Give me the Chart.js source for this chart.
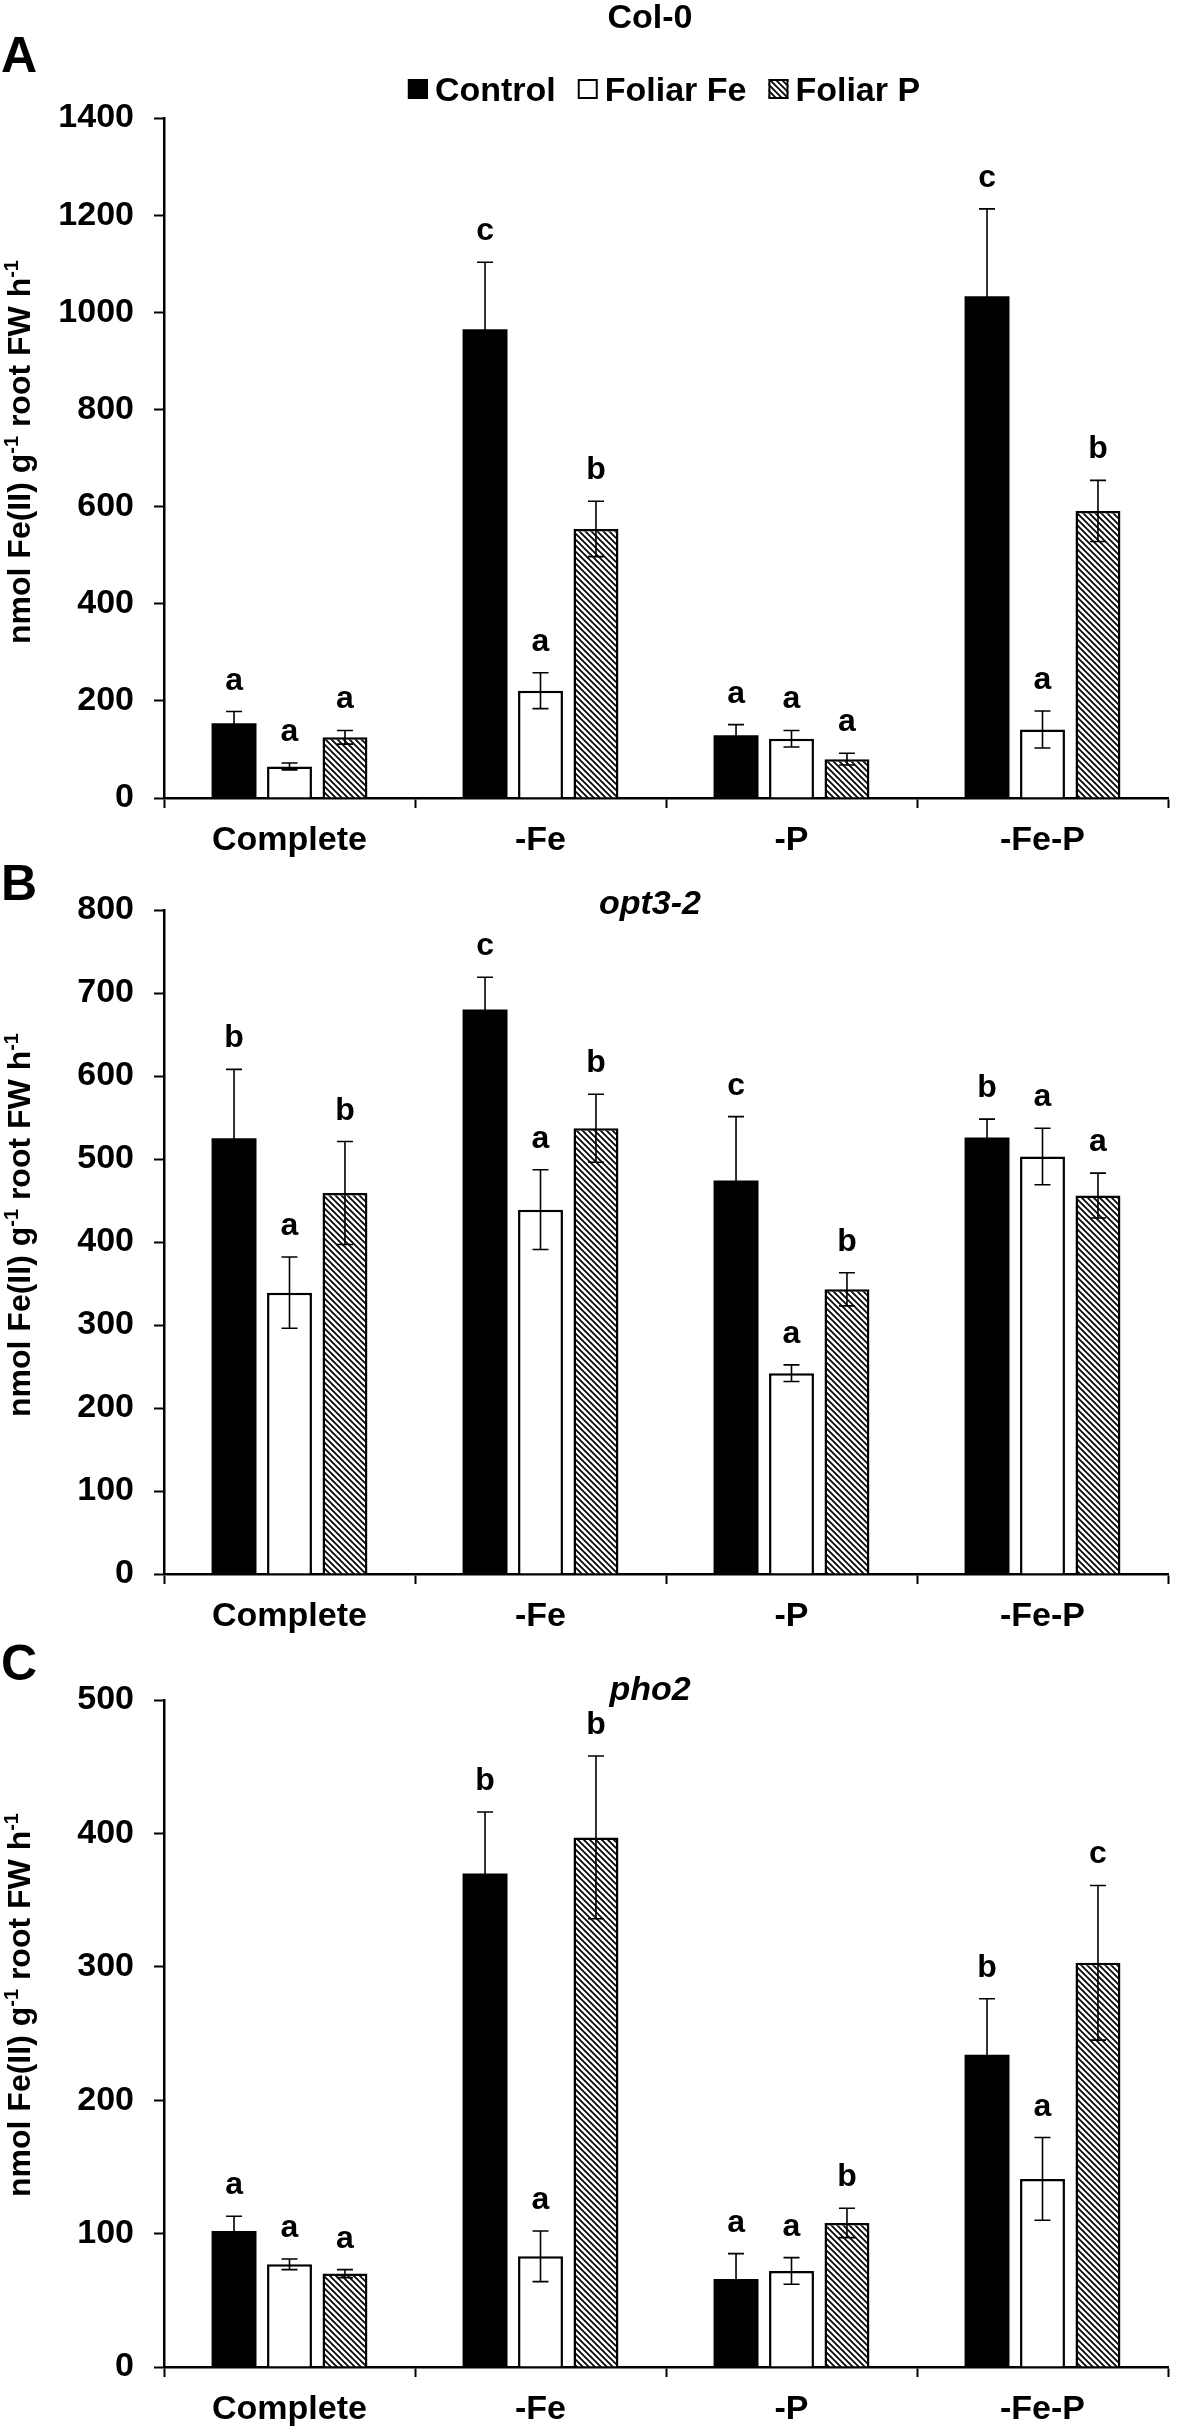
<!DOCTYPE html>
<html>
<head>
<meta charset="utf-8">
<script src="https://cdn.jsdelivr.net/npm/chart.js@4.4.1/dist/chart.umd.min.js"></script>
<style>
  html, body { margin: 0; padding: 0; background: #fff; }
  #wrap { position: relative; width: 1178px; height: 2430px; }
  canvas { position: absolute; left: 0; }
</style>
</head>
<body>
<div id="wrap">
  <canvas id="panelA" width="1178" height="860" style="top:0px"></canvas>
  <canvas id="panelB" width="1178" height="780" style="top:860px"></canvas>
  <canvas id="panelC" width="1178" height="790" style="top:1640px"></canvas>
</div>
<script>
const categories = ['Complete', '-Fe', '-P', '-Fe-P'];
const seriesNames = ['Control', 'Foliar Fe', 'Foliar P'];

// A: Col-0
const colControl = [154, 965, 129, 1033];
const colControlErr = [24, 138, 22, 180];
const colControlSig = ['a', 'c', 'a', 'c'];
const colFe = [65, 221, 122, 141];
const colFeErr = [7, 37, 17, 38];
const colFeSig = ['a', 'a', 'a', 'a'];
const colP = [125, 554, 80, 591];
const colPErr = [14, 57, 12, 63];
const colPSig = ['a', 'b', 'a', 'b'];

// B: opt3-2
const optControl = [525, 680, 474, 526];
const optControlErr = [83, 39, 77, 22];
const optControlSig = ['b', 'c', 'c', 'b'];
const optFe = [339, 439, 242, 503];
const optFeErr = [43, 48, 10, 34];
const optFeSig = ['a', 'a', 'a', 'a'];
const optP = [459, 537, 343, 456];
const optPErr = [62, 41, 20, 27];
const optPSig = ['b', 'b', 'b', 'a'];

// C: pho2
const phoControl = [102, 370, 66, 234];
const phoControlErr = [11, 46, 19, 42];
const phoControlSig = ['a', 'b', 'a', 'b'];
const phoFe = [77, 83, 72, 141];
const phoFeErr = [4, 19, 10, 31];
const phoFeSig = ['a', 'a', 'a', 'a'];
const phoP = [70, 397, 108, 303];
const phoPErr = [3, 61, 11, 58];
const phoPSig = ['a', 'b', 'b', 'c'];

const FONT = '"Liberation Sans", Arial, Helvetica, sans-serif';
Chart.defaults.font.family = FONT;
Chart.defaults.color = '#000';

function hatchPattern() {
    const c = document.createElement('canvas');
    c.width = 6; c.height = 6;
    const g = c.getContext('2d');
    g.fillStyle = '#fff';
    g.fillRect(0, 0, 6, 6);
    g.strokeStyle = '#000';
    g.lineWidth = 1.7;
    g.beginPath();
    g.moveTo(-1, -1); g.lineTo(7, 7);
    g.moveTo(-1, 5); g.lineTo(1, 7);
    g.moveTo(5, -1); g.lineTo(7, 1);
    g.stroke();
    return g.createPattern(c, 'repeat');
}
const hatch = hatchPattern();

// error bars + significance letters, placed with the y scale
const errorBars = {
    id: 'errorBars',
    afterDatasetsDraw(chart) {
        const ctx = chart.ctx;
        const ys = chart.scales.y;
        ctx.save();
        chart.data.datasets.forEach((ds, i) => {
            const meta = chart.getDatasetMeta(i);
            meta.data.forEach((bar, j) => {
                const v = ds.data[j], e = ds.errors[j];
                const yt = ys.getPixelForValue(v + e);
                const yb = ys.getPixelForValue(v - e);
                const x = bar.x;
                ctx.strokeStyle = '#000';
                ctx.lineWidth = 1.6;
                ctx.beginPath();
                ctx.moveTo(x, yt); ctx.lineTo(x, yb);
                ctx.moveTo(x - 8, yt); ctx.lineTo(x + 8, yt);
                ctx.moveTo(x - 8, yb); ctx.lineTo(x + 8, yb);
                ctx.stroke();
                ctx.fillStyle = '#000';
                ctx.font = 'bold 32px ' + FONT;
                ctx.textAlign = 'center';
                ctx.textBaseline = 'alphabetic';
                ctx.fillText(ds.letters[j], x, yt - 22);
            });
        });
        ctx.restore();
    }
};

function decoPlugin(p) {
    return {
        id: 'deco',
        afterDraw(chart) {
            const ctx = chart.ctx;
            ctx.save();
            ctx.fillStyle = '#000';
            // panel letter
            ctx.font = 'bold 50px ' + FONT;
            ctx.textAlign = 'left';
            ctx.textBaseline = 'alphabetic';
            ctx.fillText(p.letter, 1, p.letterBase);
            // title
            ctx.font = (p.italic ? 'italic ' : '') + 'bold 34px ' + FONT;
            ctx.textAlign = 'center';
            ctx.fillText(p.title, 650, p.titleBase);
            // y axis title with superscripts
            const parts = [['nmol Fe(II) g', false], ['-1', true], [' root FW h', false], ['-1', true]];
            const big = 'bold 32px ' + FONT, small = 'bold 20px ' + FONT;
            let total = 0;
            parts.forEach(([t, sup]) => { ctx.font = sup ? small : big; total += ctx.measureText(t).width; });
            ctx.translate(30, p.labelCenter);
            ctx.rotate(-Math.PI / 2);
            ctx.textAlign = 'left';
            let x = -total / 2;
            parts.forEach(([t, sup]) => {
                ctx.font = sup ? small : big;
                ctx.fillText(t, x, sup ? -12 : 0);
                x += ctx.measureText(t).width;
            });
            ctx.setTransform(1, 0, 0, 1, 0, 0);
            // legend (panel A only)
            if (p.legend) {
                ctx.font = 'bold 34px ' + FONT;
                const ds = chart.data.datasets;
                const widths = ds.map(d => ctx.measureText(d.label).width);
                const box = 20, gap = 7, sep = 22;
                const full = widths.reduce((a, b) => a + b, 0) + ds.length * (box + gap) + (ds.length - 1) * sep;
                let lx = 664 - full / 2;
                const cy = 89;
                ds.forEach((d, i) => {
                    ctx.fillStyle = d.backgroundColor;
                    ctx.fillRect(lx, cy - 10, box, box);
                    ctx.strokeStyle = '#000';
                    ctx.lineWidth = 2;
                    ctx.strokeRect(lx + 1, cy - 9, box - 2, box - 2);
                    ctx.fillStyle = '#000';
                    ctx.textAlign = 'left';
                    ctx.fillText(d.label, lx + box + gap, cy + 12);
                    lx += box + gap + widths[i] + sep;
                });
            }
            ctx.restore();
        }
    };
}

function makePanel(id, p) {
    const bold34 = { size: 34, weight: 'bold', family: FONT };
    const common = { categoryPercentage: 0.663, barPercentage: 0.81, borderColor: '#000' };
    new Chart(document.getElementById(id), {
        type: 'bar',
        data: {
            labels: categories,
            datasets: [
                Object.assign({ label: seriesNames[0], data: p.control, errors: p.controlErr, letters: p.controlSig,
                    backgroundColor: '#000', borderWidth: 0 }, common),
                Object.assign({ label: seriesNames[1], data: p.fe, errors: p.feErr, letters: p.feSig,
                    backgroundColor: '#fff', borderWidth: 2.5 }, common),
                Object.assign({ label: seriesNames[2], data: p.pp, errors: p.ppErr, letters: p.ppSig,
                    backgroundColor: hatch, borderWidth: 2.5 }, common)
            ]
        },
        options: {
            responsive: false,
            animation: false,
            devicePixelRatio: 1,
            layout: { padding: { top: p.top, bottom: p.padBottom, left: 0, right: 10 } },
            plugins: {
                legend: { display: false },
                title: { display: false },
                tooltip: { enabled: false }
            },
            scales: {
                x: {
                    ticks: { font: bold34, color: '#000', padding: 12, maxRotation: 0 },
                    grid: { offset: true, drawOnChartArea: false, drawTicks: true, tickLength: 10, tickWidth: 2, tickColor: '#000' },
                    border: { color: '#000', width: 2.5 },
                    afterFit(s) { s.height = 60; }
                },
                y: {
                    min: 0,
                    max: p.max,
                    ticks: { stepSize: p.step, font: bold34, color: '#000', padding: 20, callback: v => String(v) },
                    grid: { drawOnChartArea: false, drawTicks: true, tickLength: 10, tickWidth: 2, tickColor: '#000' },
                    border: { color: '#000', width: 2.5 },
                    afterFit(s) { s.width = 164; }
                }
            }
        },
        plugins: [errorBars, decoPlugin(p)]
    });
}

makePanel('panelA', {
    control: colControl, controlErr: colControlErr, controlSig: colControlSig,
    fe: colFe, feErr: colFeErr, feSig: colFeSig,
    pp: colP, ppErr: colPErr, ppSig: colPSig,
    max: 1400, step: 200, top: 118, padBottom: 2,
    letter: 'A', letterBase: 72, title: 'Col-0', italic: false, titleBase: 28,
    labelCenter: 452, legend: true
});
makePanel('panelB', {
    control: optControl, controlErr: optControlErr, controlSig: optControlSig,
    fe: optFe, feErr: optFeErr, feSig: optFeSig,
    pp: optP, ppErr: optPErr, ppSig: optPSig,
    max: 800, step: 100, top: 50, padBottom: 6,
    letter: 'B', letterBase: 40, title: 'opt3-2', italic: true, titleBase: 54,
    labelCenter: 365, legend: false
});
makePanel('panelC', {
    control: phoControl, controlErr: phoControlErr, controlSig: phoControlSig,
    fe: phoFe, feErr: phoFeErr, feSig: phoFeSig,
    pp: phoP, ppErr: phoPErr, ppSig: phoPSig,
    max: 500, step: 100, top: 60, padBottom: 3,
    letter: 'C', letterBase: 40, title: 'pho2', italic: true, titleBase: 60,
    labelCenter: 365, legend: false
});
</script>
</body>
</html>
